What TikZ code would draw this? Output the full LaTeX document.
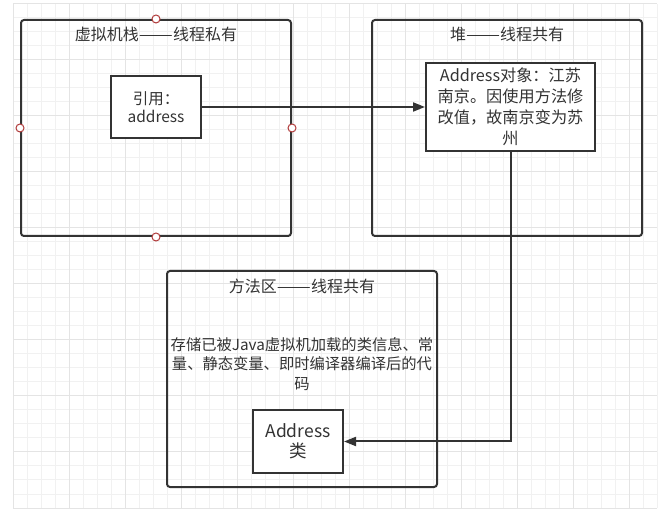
\documentclass[tikz,border=0pt]{standalone}
\usepackage{fontspec}
\setmainfont{Noto Sans CJK SC}
\usepackage{xcolor}
\usepackage{graphicx}
\usetikzlibrary{arrows.meta, calc, positioning}

\definecolor{inkgray}{HTML}{333333}
\definecolor{gridminor}{HTML}{F1F1F1}
\definecolor{gridmajor}{HTML}{E4E4E4}
\definecolor{handlered}{HTML}{B03A3A}

% 标题中的长破折号
\newcommand{\longdash}{\resizebox{34pt}{\height}{——}}

\begin{document}
\begin{tikzpicture}[x=1pt, y=-1pt,
    area/.style={draw=inkgray, line width=2pt, rounded corners=3pt,
        minimum width=270pt, minimum height=216pt, inner sep=0pt},
    cell/.style={draw=inkgray, line width=2pt, fill=white, align=center,
        inner sep=0pt, text=inkgray},
    title/.style={text=inkgray, inner sep=0pt, font=\fontsize{16}{20}\selectfont},
    handle/.style={circle, draw=handlered, fill=white, line width=1pt,
        minimum size=8pt, inner sep=0pt},
    link/.style={draw=inkgray, line width=2pt,
        -{Triangle[length=12pt, width=9pt]}}]
    \useasboundingbox (0,0) rectangle (665,513);

    % 背景网格
    \foreach \x in {13,27,...,657} \draw[gridminor, line width=1pt] (\x,4) -- (\x,508);
    \foreach \y in {4,18,...,508} \draw[gridminor, line width=1pt] (13,\y) -- (657,\y);
    \foreach \x in {13,69,...,629} \draw[gridmajor, line width=1pt] (\x,4) -- (\x,508);
    \foreach \y in {4,60,...,508} \draw[gridmajor, line width=1pt] (13,\y) -- (657,\y);

    % 三个区域
    \node[area] (stack) at (156,128) {};
    \node[area] (heap) at (507,128) {};
    \node[area] (method) at (302,379) {};

    \node[title, below=8pt of stack.north] (stacktitle) {虚拟机栈\longdash 线程私有};
    \node[title, below=8pt of heap.north] (heaptitle) {堆\longdash 线程共有};
    \node[title, below=9pt of method.north] (methodtitle) {方法区\longdash 线程共有};

    % 区域中的内容
    \node[cell, minimum width=90pt, minimum height=62pt,
        font=\fontsize{15.5}{18}\selectfont] (ref) at (156,107)
        {引用：\\address};
    \node[cell, minimum width=169pt, minimum height=88pt,
        font=\fontsize{16.2}{21}\selectfont] (obj) at (510.5,107)
        {Address对象：江苏\\南京。因使用方法修\\改值，故南京变为苏\\州};
    \node[title, align=center, font=\fontsize{15.3}{19.5}\selectfont] (info) at (302,364)
        {存储已被Java虚拟机加载的类信息、常\\量、静态变量、即时编译器编译后的代\\码};
    \node[cell, minimum width=90pt, minimum height=63pt,
        font=\fontsize{17.5}{20}\selectfont] (cls) at (298,441.5)
        {Address\\类};

    % 选中区域的控制点
    \node[handle] (hn) at (stack.north) {};
    \node[handle] (hw) at (stack.west) {};
    \node[handle] (he) at (stack.east) {};
    \node[handle] (hs) at (stack.south) {};

    % 引用关系
    \draw[link] (ref.east) -- (obj.west);
    \draw[link] (obj.south) |- (cls.east);
\end{tikzpicture}
\end{document}
